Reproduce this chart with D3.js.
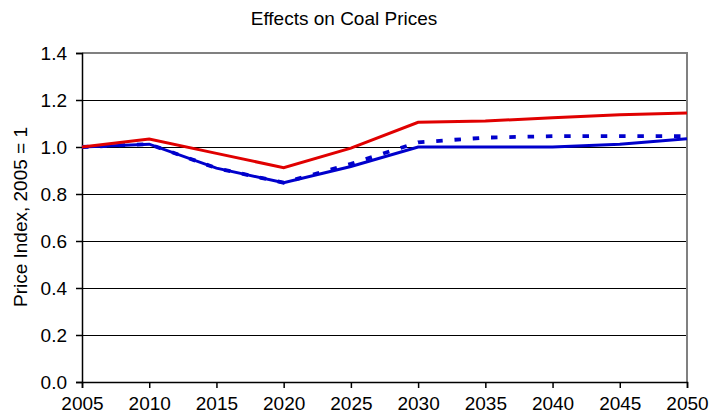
<!DOCTYPE html>
<html>
<head>
<meta charset="utf-8">
<script src="https://cdn.jsdelivr.net/npm/d3@7"></script>
<style>
  body { margin: 0; background: #fff; }
  text { font-family: "Liberation Sans", Arial, sans-serif; }
</style>
</head>
<body>
<svg id="chart" width="711" height="420"></svg>
<script>
// data
const years = [2005, 2010, 2015, 2020, 2025, 2030, 2035, 2040, 2045, 2050];
const redSeries = [1.0, 1.034, 0.973, 0.912, 0.995, 1.105, 1.111, 1.124, 1.137, 1.145];
const blueSeries = [1.0, 1.012, 0.91, 0.848, 0.917, 1.0, 1.0, 1.0, 1.012, 1.035];
const blueDashedSeries = [1.0, 1.012, 0.91, 0.848, 0.928, 1.02, 1.04, 1.046, 1.046, 1.046];
const yTicks = [0, 0.2, 0.4, 0.6, 0.8, 1.0, 1.2, 1.4];

const config = {
  left: 82, right: 687, top: 53, bottom: 382,
  font: 19,
  red: '#e00000',
  blue: '#0000cc'
};

const svg = d3.select('#chart');

const x = d3.scaleLinear().domain([2005, 2050]).range([config.left, config.right]);
const y = d3.scaleLinear().domain([0, 1.4]).range([config.bottom, config.top]);

// gridlines
svg.append('g')
  .selectAll('line')
  .data(yTicks.filter(d => d > 0 && d < 1.4))
  .enter()
  .append('line')
  .attr('x1', config.left)
  .attr('x2', config.right)
  .attr('y1', d => y(d))
  .attr('y2', d => y(d))
  .attr('stroke', '#000')
  .attr('stroke-width', 1)
  .attr('shape-rendering', 'crispEdges');

// plot border (top, right)
svg.append('path')
  .attr('d', `M${config.left},${y(1.4)}H${config.right}V${config.bottom}`)
  .attr('fill', 'none')
  .attr('stroke', '#808080')
  .attr('stroke-width', 1.5)
  .attr('shape-rendering', 'crispEdges');

// y axis
const yAxis = svg.append('g')
  .attr('transform', `translate(${config.left},0)`)
  .call(d3.axisLeft(y).tickValues(yTicks).tickFormat(d3.format('.1f')).tickSize(6).tickPadding(9));
yAxis.select('.domain').attr('stroke', '#000').attr('stroke-width', 1.5);
yAxis.selectAll('line').attr('stroke', '#000').attr('stroke-width', 1.5);
yAxis.selectAll('text').attr('font-size', config.font).attr('fill', '#000')
  .attr('font-family', '"Liberation Sans", Arial, sans-serif');

// x axis
const xAxis = svg.append('g')
  .attr('transform', `translate(0,${config.bottom})`)
  .call(d3.axisBottom(x).tickValues(years).tickFormat(d3.format('d')).tickSize(6).tickPadding(9));
xAxis.select('.domain').attr('stroke', '#000').attr('stroke-width', 1.5);
xAxis.selectAll('line').attr('stroke', '#000').attr('stroke-width', 1.5);
xAxis.selectAll('text').attr('font-size', config.font).attr('fill', '#000')
  .attr('font-family', '"Liberation Sans", Arial, sans-serif');

// lines
const line = (values) => d3.line()
  .x((d, i) => x(years[i]))
  .y(d => y(d))(values);

svg.append('path')
  .attr('d', line(blueSeries))
  .attr('fill', 'none')
  .attr('stroke', config.blue)
  .attr('stroke-width', 3);

svg.append('path')
  .attr('d', line(blueDashedSeries))
  .attr('fill', 'none')
  .attr('stroke', config.blue)
  .attr('stroke-width', 3.8)
  .attr('stroke-dasharray', '6.5,11.8');

svg.append('path')
  .attr('d', line(redSeries))
  .attr('fill', 'none')
  .attr('stroke', config.red)
  .attr('stroke-width', 3);

// title
svg.append('text')
  .text('Effects on Coal Prices')
  .attr('x', 344)
  .attr('y', 25)
  .attr('text-anchor', 'middle')
  .attr('font-size', config.font);

// y label
svg.append('text')
  .text('Price Index, 2005 = 1')
  .attr('transform', `translate(27,217) rotate(-90)`)
  .attr('text-anchor', 'middle')
  .attr('font-size', config.font);
</script>
</body>
</html>
